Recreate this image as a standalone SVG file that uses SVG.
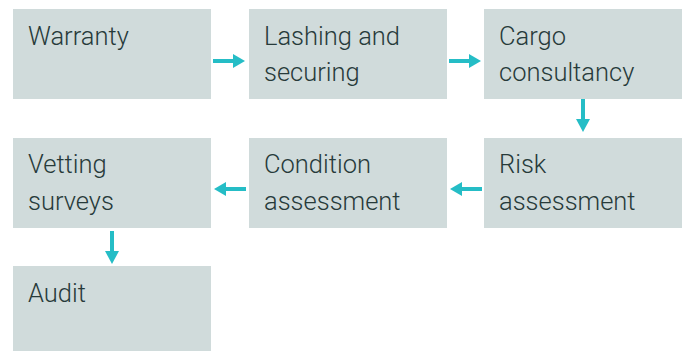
<svg xmlns="http://www.w3.org/2000/svg" width="686" height="351" viewBox="0 0 686 351">
<defs>
<style>
.box{fill:#d0dbdb}
.t{font-family:Roboto,"Liberation Sans",Arial,sans-serif;font-weight:300;font-size:25.5px;fill:#273a3a}
.c{stroke:#25bdc6;stroke-width:4;fill:none}
.h{fill:#25bdc6}
</style>
</defs>
<rect width="686" height="351" fill="#ffffff"/>
<g id="warranty"><rect class="box" x="13" y="9" width="198" height="90"/><text class="t" x="28" y="45">Warranty</text></g>
<g id="lashing"><rect class="box" x="249" y="9" width="198" height="90"/><text class="t" x="264" y="45">Lashing and</text><text class="t" x="264" y="81">securing</text></g>
<g id="cargo"><rect class="box" x="484" y="9" width="198" height="90"/><text class="t" x="499" y="45">Cargo</text><text class="t" x="499" y="81">consultancy</text></g>
<g id="risk"><rect class="box" x="484" y="138" width="198" height="90"/><text class="t" x="499" y="173">Risk</text><text class="t" x="499" y="210">assessment</text></g>
<g id="condition"><rect class="box" x="249" y="138" width="198" height="90"/><text class="t" x="264" y="173">Condition</text><text class="t" x="264" y="210">assessment</text></g>
<g id="vetting"><rect class="box" x="13" y="138" width="198" height="90"/><text class="t" x="28" y="173">Vetting</text><text class="t" x="28" y="210">surveys</text></g>
<g id="audit"><rect class="box" x="13" y="266" width="198" height="85"/><text class="t" x="28" y="302">Audit</text></g>
<g id="connectors">
<line class="c" x1="213" y1="61" x2="234" y2="61"/><polygon class="h" points="233,54 245,61 233,68"/>
<line class="c" x1="449" y1="61" x2="470" y2="61"/><polygon class="h" points="469,54 481,61 469,68"/>
<line class="c" x1="583" y1="99" x2="583" y2="120"/><polygon class="h" points="576,119 590,119 583,132"/>
<line class="c" x1="482" y1="189" x2="461" y2="189"/><polygon class="h" points="462,182 450,189 462,196"/>
<line class="c" x1="246" y1="189" x2="225" y2="189"/><polygon class="h" points="226,182 214,189 226,196"/>
<line class="c" x1="112" y1="231" x2="112" y2="252"/><polygon class="h" points="105,251 119,251 112,264"/>
</g>
</svg>
